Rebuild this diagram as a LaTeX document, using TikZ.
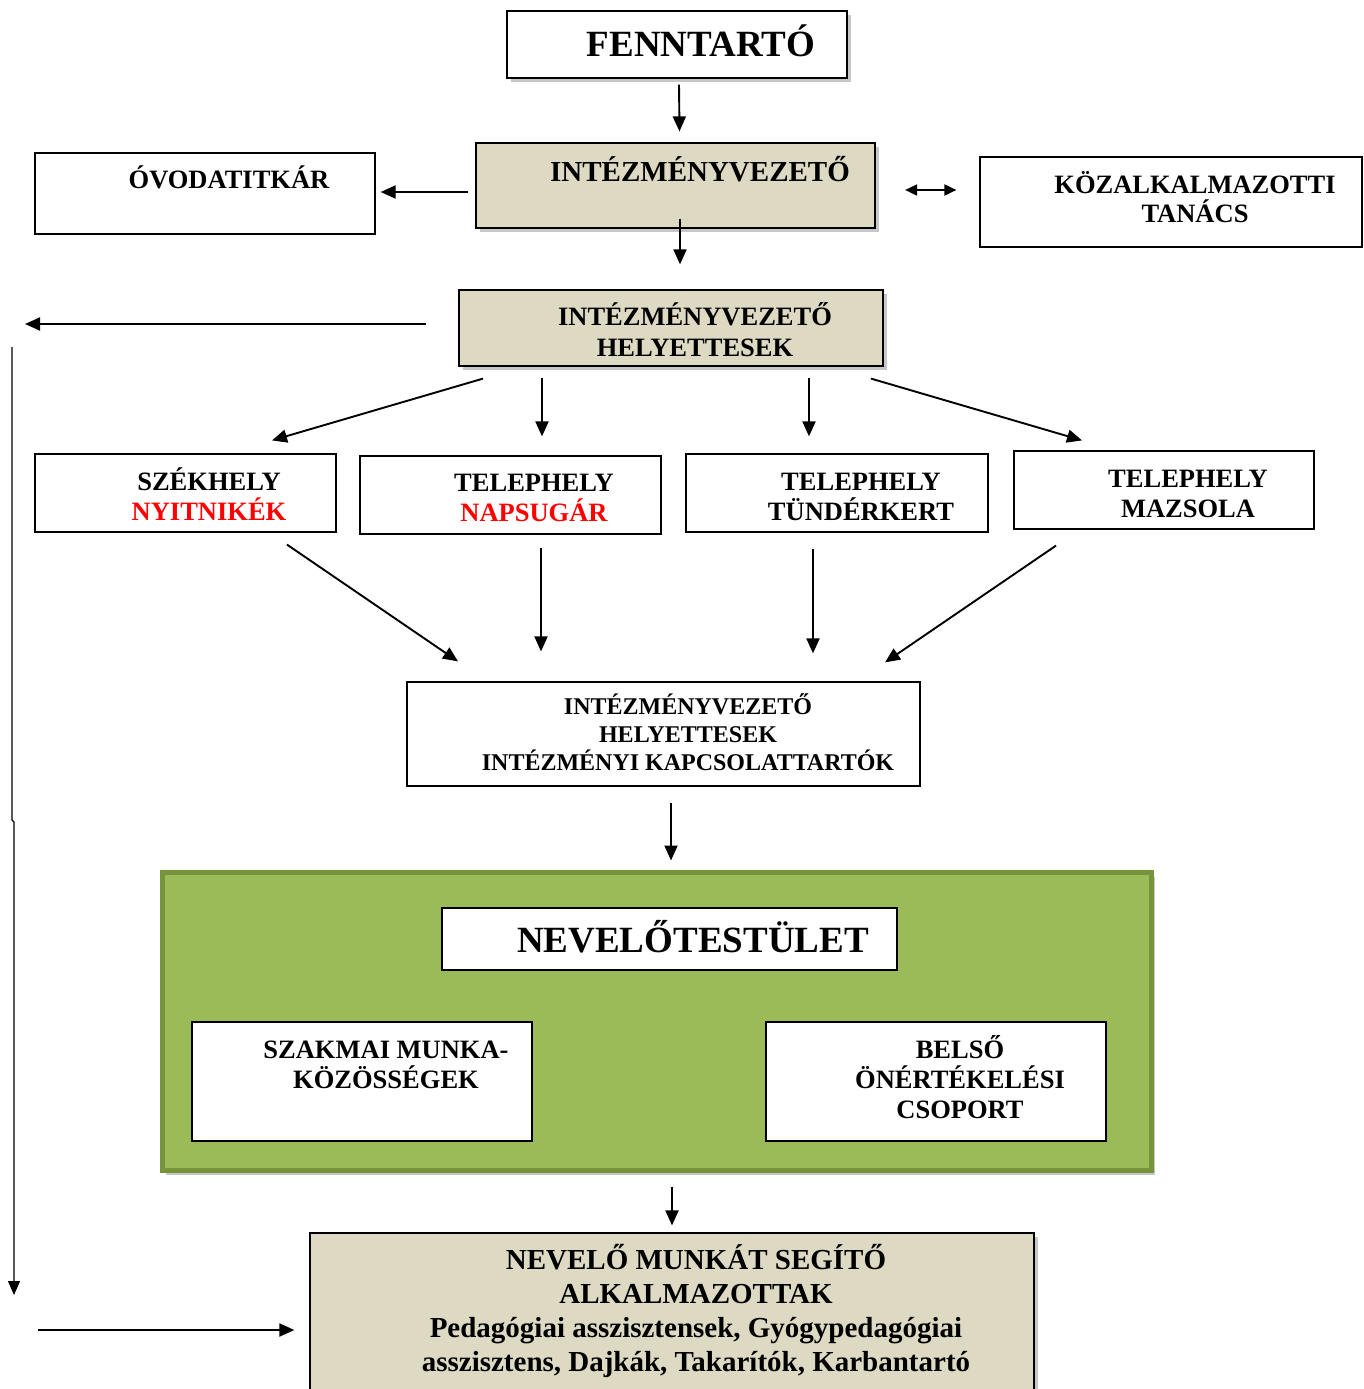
\documentclass[tikz,border=0pt]{standalone}
\usepackage{fontspec}
\setmainfont{Liberation Serif}
\usetikzlibrary{arrows.meta,shadows,calc}
\definecolor{tanfill}{HTML}{DDD9C3}
\definecolor{grnfill}{HTML}{9BBB59}
\definecolor{grnline}{HTML}{77933C}
\definecolor{redtxt}{HTML}{FF0000}
\begin{document}
\begin{tikzpicture}[x=1pt,y=-1pt,
  box/.style={draw=black, line width=1.2pt, fill=white, inner sep=0pt},
  shbox/.style={box, drop shadow={shadow xshift=4pt, shadow yshift=-4pt, fill=black, opacity=0.22}},
  tanbox/.style={shbox, fill=tanfill},
  txt/.style={font=\bfseries\fontsize{26.5}{30}\selectfont, align=flush center, inner sep=0pt, anchor=base, text width=520pt},
  arr/.style={line width=1.9pt, -{Triangle[length=15pt,width=13pt]}},
  thinarr/.style={line width=1.3pt, -{Triangle[length=14pt,width=12pt]}},
  dblarr/.style={line width=1.9pt, {Triangle[length=12pt,width=11pt]}-{Triangle[length=12pt,width=11pt]}},
]
\useasboundingbox (0,0) rectangle (1363,1389);

% ---- boxes ----
\node[shbox, minimum width=340pt, minimum height=67pt] (fenn) at (677,44.5) {};
\node[tanbox, minimum width=399pt, minimum height=85pt] (intez) at (675.5,185.5) {};
\node[box, minimum width=340pt, minimum height=81pt] (ovod) at (205,193.5) {};
\node[box, minimum width=382pt, minimum height=90pt] (koz) at (1171,202) {};
\node[tanbox, minimum width=424pt, minimum height=76pt] (hely) at (671,328) {};
\node[box, minimum width=301pt, minimum height=78pt] (szek) at (185.5,493) {};
\node[box, minimum width=301pt, minimum height=78pt] (nap) at (510.5,495) {};
\node[box, minimum width=302pt, minimum height=78pt] (tund) at (837,493) {};
\node[box, minimum width=300pt, minimum height=78pt] (mazs) at (1164,490) {};
\node[box, minimum width=513pt, minimum height=104pt] (kapcs) at (663.5,734) {};
\node[draw=grnline, line width=5pt, fill=grnfill, inner sep=0pt,
      drop shadow={shadow xshift=4pt, shadow yshift=-5pt, fill=black, opacity=0.22},
      minimum width=989pt, minimum height=298pt] (green) at (656.5,1021) {};
\node[box, minimum width=455pt, minimum height=62pt] (nevt) at (669.5,939) {};
\node[box, minimum width=340pt, minimum height=119pt] (szak) at (362,1081.5) {};
\node[box, minimum width=340pt, minimum height=119pt] (belso) at (936,1081.5) {};
\node[tanbox, minimum width=724pt, minimum height=162pt] (bottom) at (672,1314) {};

% ---- texts ----
\node[txt, font=\bfseries\fontsize{37}{40}\selectfont] (tfenn) at (701,57) {FENNTARTÓ};
\node[txt, font=\bfseries\fontsize{29}{33}\selectfont] (tintez) at (700,181) {INTÉZMÉNYVEZETŐ};
\node[txt] (tovod) at (229,188) {ÓVODATITKÁR};
\node[txt, font=\bfseries\fontsize{26.5}{29}\selectfont] (tkoz) at (1195,193) {KÖZALKALMAZOTTI\\TANÁCS};
\node[txt, font=\bfseries\fontsize{26.5}{31}\selectfont] (thely) at (695,325) {INTÉZMÉNYVEZETŐ\\HELYETTESEK};
\node[txt] (tszek) at (209,490) {SZÉKHELY\\\textcolor{redtxt}{NYITNIKÉK}};
\node[txt] (tnap) at (534,491) {TELEPHELY\\\textcolor{redtxt}{NAPSUGÁR}};
\node[txt] (ttund) at (861,490) {TELEPHELY\\TÜNDÉRKERT};
\node[txt] (tmazs) at (1188,487) {TELEPHELY\\MAZSOLA};
\node[txt, font=\bfseries\fontsize{24}{28}\selectfont] (tkapcs) at (688,714) {INTÉZMÉNYVEZETŐ\\HELYETTESEK\\INTÉZMÉNYI KAPCSOLATTARTÓK};
\node[txt, font=\bfseries\fontsize{37}{40}\selectfont] (tnevt) at (693,952) {NEVELŐTESTÜLET};
\node[txt] (tszak) at (386,1058) {SZAKMAI MUNKA-\\KÖZÖSSÉGEK};
\node[txt] (tbelso) at (960,1058) {BELSŐ\\ÖNÉRTÉKELÉSI\\CSOPORT};
\node[txt, font=\bfseries\fontsize{29}{34.3}\selectfont, text width=700pt] (tbottom) at (696,1269) {NEVELŐ MUNKÁT SEGÍTŐ\\ALKALMAZOTTAK\\Pedagógiai asszisztensek, Gyógypedagógiai\\asszisztens, Dajkák, Takarítók, Karbantartó};

% ---- free ends ----
\coordinate (lefttip) at (25,324);
\coordinate (vtop) at (12,347);
\coordinate (vmid1) at (12,820);
\coordinate (vmid2) at (14,822);
\coordinate (vbot) at (14,1295);
\coordinate (hstart) at (38,1330);

% ---- connectors ----
\draw[arr] ($(fenn.south)+(2,6)$) -- ($(intez.north)+(4,-11)$);
\draw[arr] ($(intez.south)+(4.5,-10)$) -- ($(hely.north)+(9,-25)$);
\draw[arr] ($(intez.west)+(-7,6.5)$) -- ($(ovod.east)+(5,-1.5)$);
\draw[dblarr] ($(intez.east)+(29.5,4.5)$) -- ($(koz.west)+(-23,-12)$);
\draw[arr] ($(hely.west)+(-32,-4)$) -- (lefttip);
\draw[thinarr] (vtop) -- (vmid1) -- (vmid2) -- (vbot);
\draw[arr] (hstart) -- ($(bottom.west)+(-15,16)$);
\draw[arr] ($(hely.south)+(-188,12)$) -- ($(szek.north)+(86.5,-13)$);
\draw[arr] ($(hely.south)+(-129,11)$) -- ($(nap.north)+(31.5,-19)$);
\draw[arr] ($(hely.south)+(138,11)$) -- ($(tund.north)+(-28,-17)$);
\draw[arr] ($(hely.south)+(200,12)$) -- ($(mazs.north)+(-82,-10)$);
\draw[arr] ($(szek.south)+(101.5,12)$) -- ($(kapcs.north)+(-205.5,-20)$);
\draw[arr] ($(nap.south)+(30.5,13)$) -- ($(kapcs.north)+(-122.5,-30)$);
\draw[arr] ($(tund.south)+(-24,16)$) -- ($(kapcs.north)+(149.5,-28)$);
\draw[arr] ($(mazs.south)+(-108,16)$) -- ($(kapcs.north)+(221.5,-19)$);
\draw[arr] ($(kapcs.south)+(7.5,16)$) -- ($(green.north)+(14.5,-9)$);
\draw[arr] ($(green.south)+(15.5,14)$) -- ($(bottom.north)+(0,-7)$);
\end{tikzpicture}
\end{document}
